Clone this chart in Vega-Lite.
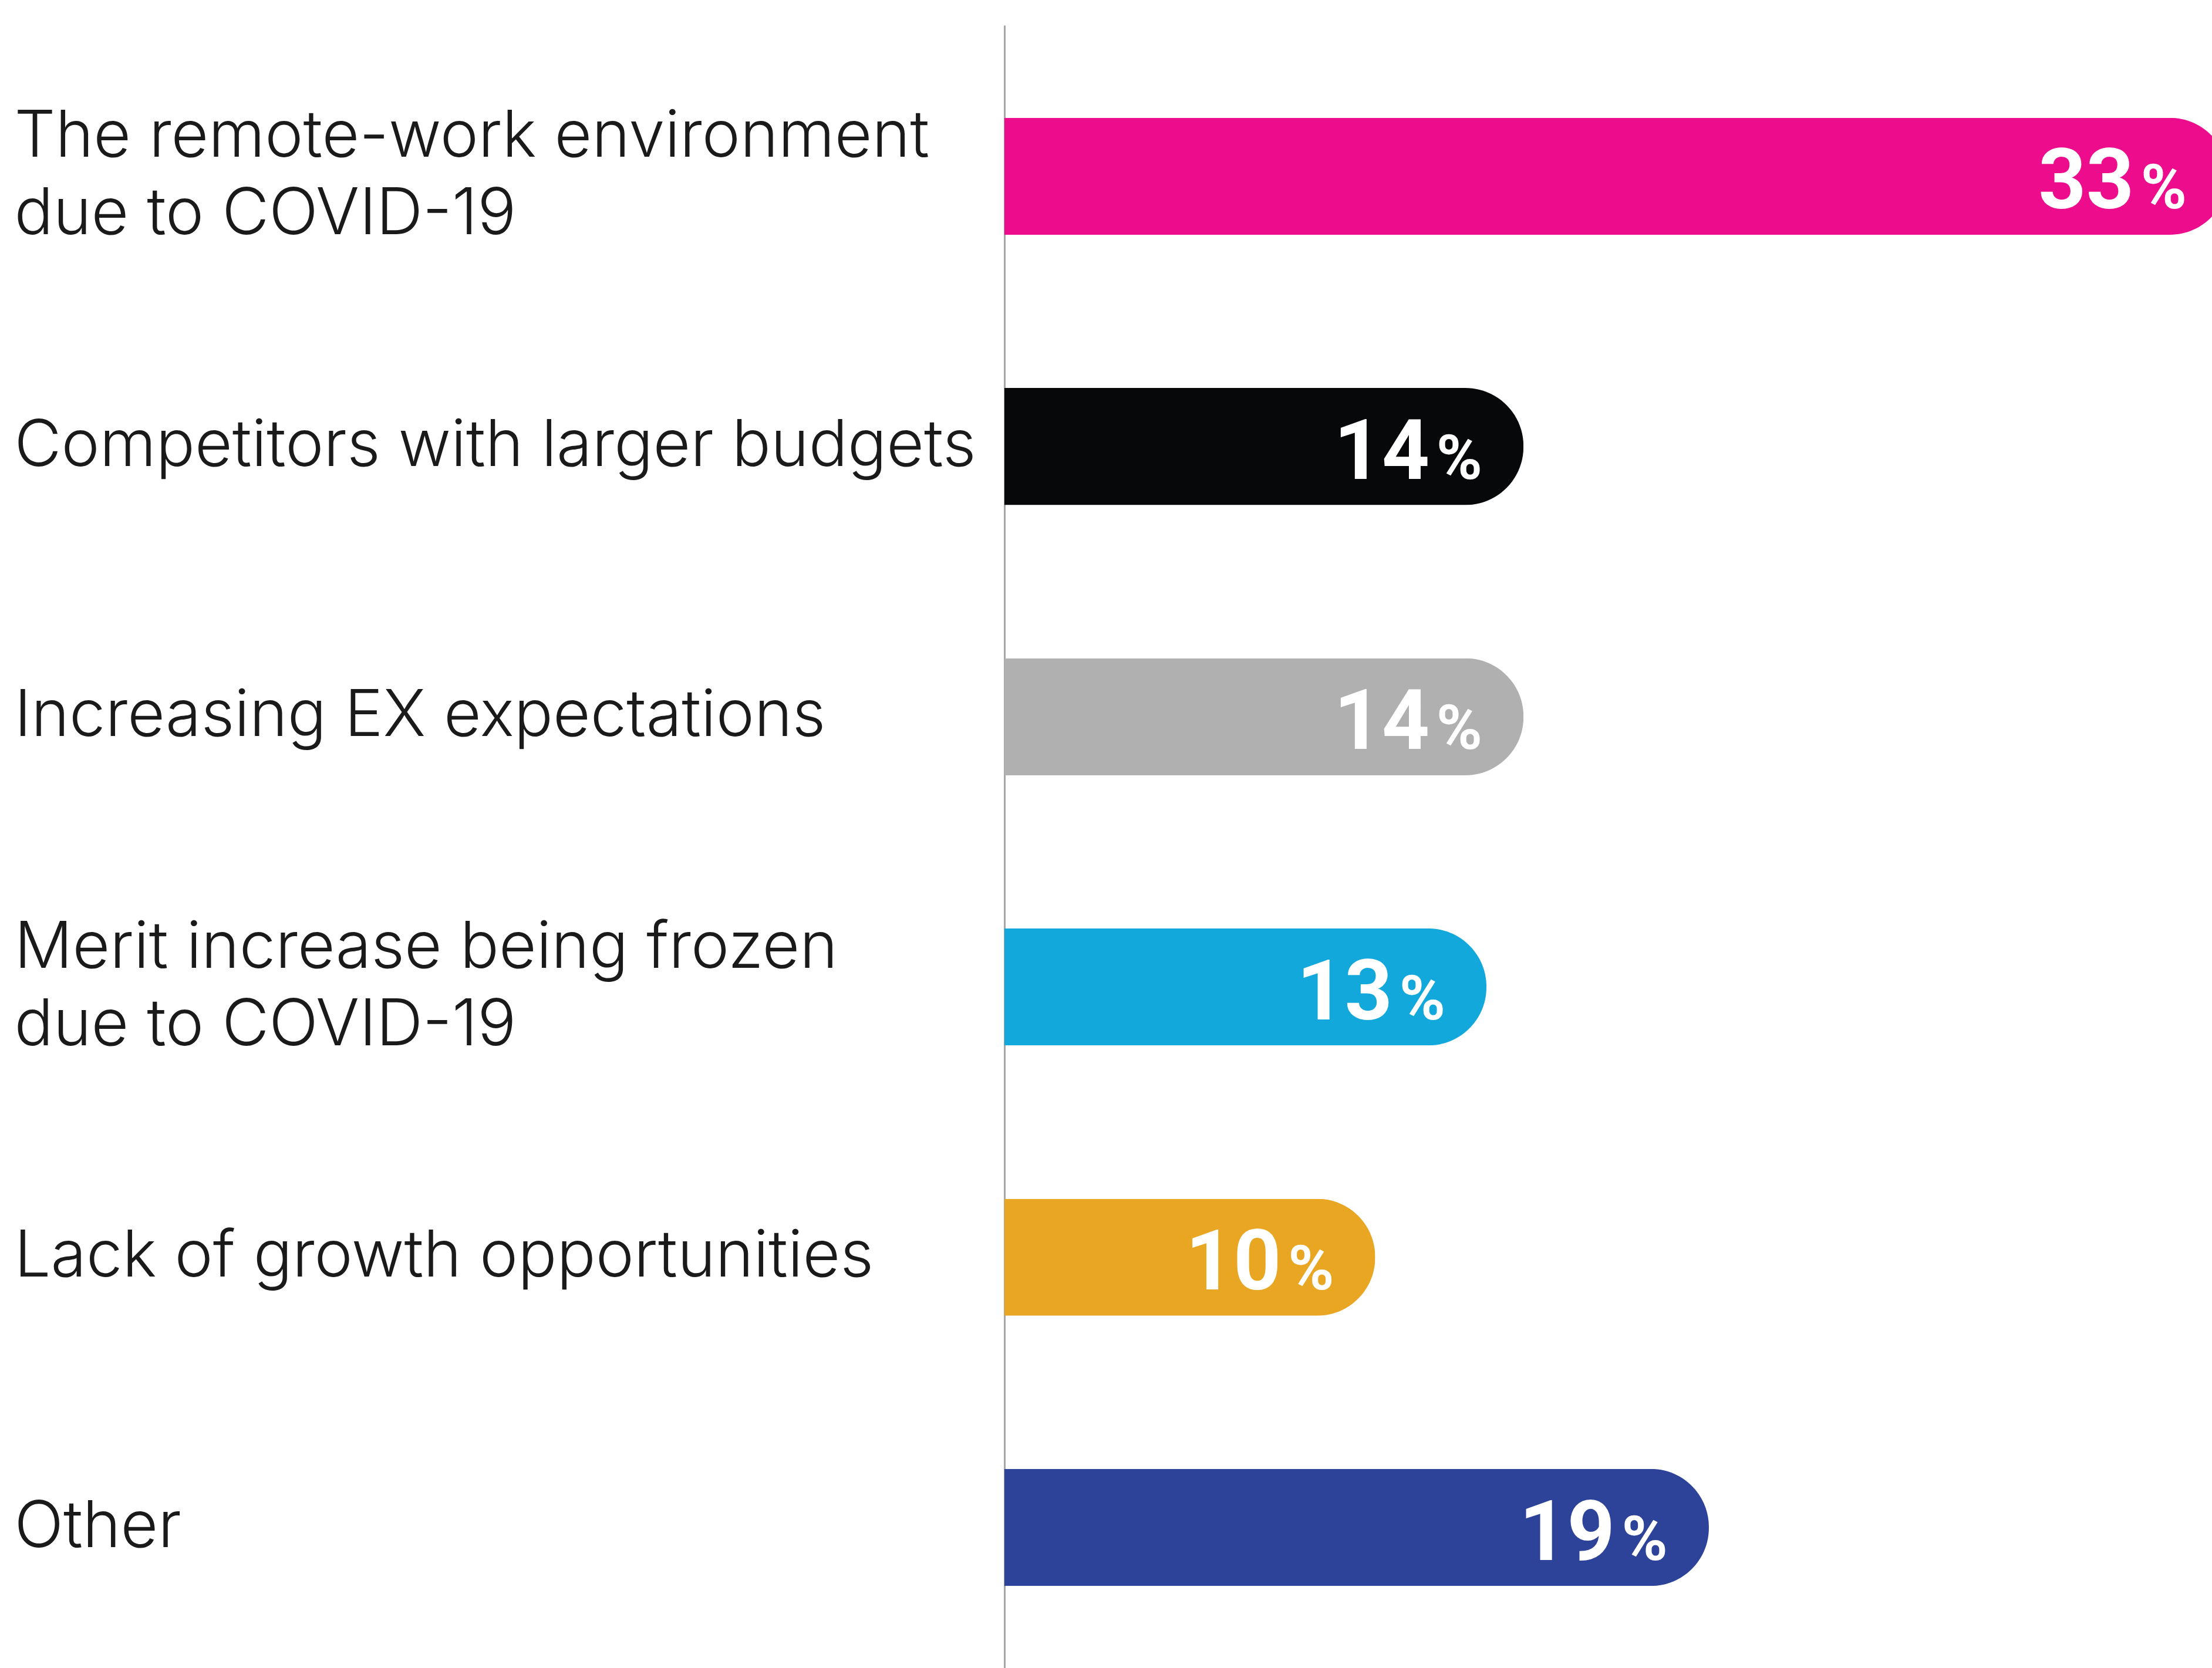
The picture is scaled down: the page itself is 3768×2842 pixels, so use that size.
{
  "$schema": "https://vega.github.io/schema/vega-lite/v6.json",
  "width": 2057,
  "height": 2799,
  "padding": {"left": 24, "top": 43, "right": 0, "bottom": 0},
  "background": "white",
  "config": {"view": {"stroke": null}},
  "data": {
    "values": [
      {"cat": "The remote-work environment due to COVID-19", "value": 33},
      {"cat": "Competitors with larger budgets", "value": 14},
      {"cat": "Increasing EX expectations", "value": 14},
      {"cat": "Merit increase being frozen due to COVID-19", "value": 13},
      {"cat": "Lack of growth opportunities", "value": 10},
      {"cat": "Other", "value": 19}
    ]
  },
  "encoding": {
    "y": {
      "field": "cat",
      "type": "nominal",
      "sort": null,
      "scale": {"paddingInner": 0.567, "paddingOuter": 0.323, "align": 0.53},
      "axis": {
        "title": null,
        "ticks": false,
        "domain": true,
        "domainColor": "#a6a6a6",
        "domainWidth": 3,
        "labelAlign": "left",
        "labelBaseline": "middle",
        "labelPadding": 1687,
        "labelOffset": {"condition": {"test": "indexof(datum.value, ' due to') > 0", "value": -66}, "value": 0},
        "labelFont": "Inter",
        "labelFontWeight": 300,
        "labelFontSize": 110,
        "labelColor": "#1a1a1a",
        "labelLineHeight": 132,
        "labelLimit": 0,
        "labelExpr": "indexof(datum.value, ' due to') > 0 ? [slice(datum.value, 0, indexof(datum.value, ' due to')), 'due to COVID-19'] : datum.value"
      }
    },
    "x": {
      "field": "value",
      "type": "quantitative",
      "scale": {"domain": [0, 32.57], "nice": false, "zero": true},
      "axis": null
    }
  },
  "layer": [
    {
      "mark": {"type": "bar", "cornerRadiusEnd": 99},
      "encoding": {
        "color": {
          "field": "cat",
          "type": "nominal",
          "legend": null,
          "scale": {
            "domain": [
              "The remote-work environment due to COVID-19",
              "Competitors with larger budgets",
              "Increasing EX expectations",
              "Merit increase being frozen due to COVID-19",
              "Lack of growth opportunities",
              "Other"
            ],
            "range": ["#ec0c8c", "#06080a", "#b0b0b0", "#12a8dc", "#e9a623", "#2c4399"]
          }
        }
      }
    },
    {
      "mark": {"type": "text", "align": "right", "baseline": "alphabetic", "dx": -160, "dy": 55, "font": "Roboto", "fontWeight": "bold", "fontSize": 142, "color": "white"},
      "encoding": {"text": {"field": "value", "type": "quantitative"}}
    },
    {
      "mark": {"type": "text", "text": "%", "align": "right", "baseline": "alphabetic", "dx": -70, "dy": 55, "font": "Roboto", "fontWeight": "bold", "fontSize": 106, "color": "white"}
    }
  ]
}
